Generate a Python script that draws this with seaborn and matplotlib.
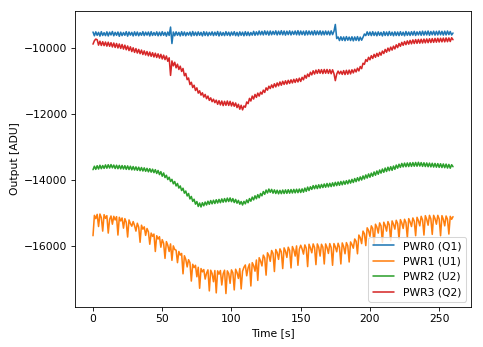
import numpy as np
import pandas as pd
import matplotlib
matplotlib.use("Agg")
import matplotlib.pyplot as plt
import seaborn as sns

# Detector outputs sampled once per second [ADU]
pwr0 = [
    -9500, -9615, -9495, -9600, -9510, -9625, -9490, -9605, -9520, -9610,
    -9495, -9620, -9505, -9590, -9485, -9615, -9510, -9600, -9500, -9630,
    -9505, -9610, -9515, -9600, -9490, -9625, -9500, -9595, -9510, -9620,
    -9495, -9605, -9500, -9615, -9520, -9600, -9490, -9610, -9505, -9595,
    -9500, -9620, -9490, -9605, -9515, -9600, -9495, -9615, -9505, -9610,
    -9490, -9600, -9510, -9625, -9500, -9605, -9350, -9850, -9500, -9615,
    -9495, -9600, -9510, -9620, -9490, -9605, -9500, -9615, -9515, -9595,
    -9500, -9620, -9485, -9605, -9505, -9610, -9495, -9600, -9510, -9620,
    -9490, -9605, -9500, -9615, -9510, -9595, -9495, -9610, -9505, -9600,
    -9485, -9620, -9500, -9605, -9515, -9610, -9490, -9600, -9505, -9615,
    -9500, -9595, -9490, -9610, -9510, -9620, -9495, -9600, -9505, -9615,
    -9490, -9605, -9500, -9610, -9515, -9595, -9480, -9600, -9495, -9590,
    -9470, -9585, -9480, -9590, -9465, -9580, -9475, -9595, -9470, -9585,
    -9480, -9575, -9465, -9590, -9475, -9580, -9460, -9585, -9470, -9595,
    -9475, -9580, -9465, -9590, -9480, -9575, -9470, -9585, -9460, -9590,
    -9470, -9580, -9475, -9595, -9465, -9585, -9470, -9580, -9475, -9590,
    -9460, -9585, -9470, -9580, -9465, -9590, -9475, -9585, -9470, -9580,
    -9475, -9590, -9465, -9580, -9480, -9270, -9700, -9650, -9760, -9645,
    -9755, -9650, -9765, -9640, -9750, -9655, -9760, -9645, -9770, -9650,
    -9755, -9640, -9765, -9655, -9750, -9660, -9560, -9610, -9495, -9600,
    -9500, -9610, -9490, -9605, -9505, -9615, -9495, -9600, -9510, -9620,
    -9490, -9605, -9500, -9610, -9485, -9600, -9505, -9615, -9495, -9605,
    -9500, -9610, -9490, -9600, -9505, -9615, -9485, -9600, -9500, -9605,
    -9490, -9595, -9480, -9605, -9495, -9590, -9485, -9600, -9475, -9595,
    -9480, -9590, -9470, -9600, -9485, -9585, -9475, -9595, -9480, -9590,
    -9470, -9585, -9480, -9595, -9475, -9590, -9470, -9580, -9485, -9590,
    -9530,
]

pwr1 = [
    -15700, -15080, -15180, -15050, -15420, -15040, -15150, -15560, -15060, -15170,
    -15090, -15620, -15200, -15100, -15350, -15110, -15220, -15120, -15680, -15140,
    -15250, -15160, -15470, -15180, -15290, -15740, -15220, -15330, -15410, -15270,
    -15390, -15560, -15320, -15440, -15900, -15380, -15500, -15430, -15690, -15480,
    -15580, -15960, -15620, -15720, -15650, -16180, -15700, -15800, -15730, -16050,
    -15820, -15930, -16390, -15880, -15990, -16180, -15950, -16450, -16010, -16120,
    -16140, -16520, -16180, -16290, -16240, -16860, -16310, -16420, -16650, -16430,
    -16520, -17080, -16570, -16670, -16600, -16950, -16660, -17300, -16700, -16800,
    -16730, -17020, -16840, -16740, -17380, -16750, -16850, -17100, -16760, -17440,
    -16770, -16870, -16760, -17200, -16860, -16750, -17460, -16770, -16850, -17150,
    -16740, -16830, -17350, -16720, -16820, -17000, -16700, -17320, -16780, -16660,
    -16590, -16920, -16680, -16560, -17230, -16520, -16610, -16780, -16440, -17060,
    -16370, -16470, -16620, -16290, -16380, -16900, -16220, -16300, -16480, -16150,
    -16240, -16790, -16120, -16210, -16420, -16100, -16190, -16700, -16070, -16170,
    -16360, -16050, -16150, -16680, -16030, -16130, -16320, -16010, -16600, -16110,
    -15990, -16100, -16260, -15980, -16080, -16640, -15960, -16070, -16220, -15950,
    -16060, -16580, -15950, -16050, -16320, -15960, -16050, -16560, -15950, -16060,
    -16240, -15940, -16060, -16600, -15940, -16040, -16190, -15930, -16050, -16560,
    -15920, -16030, -16250, -15910, -16010, -16500, -15890, -15970, -16080, -15800,
    -15870, -16250, -15680, -15760, -15940, -15560, -15640, -16000, -15460, -15540,
    -15720, -15400, -15480, -15980, -15350, -15440, -15620, -15310, -15400, -15900,
    -15290, -15390, -15560, -15270, -15370, -15850, -15250, -15350, -15500, -15230,
    -15330, -15800, -15210, -15310, -15480, -15200, -15300, -15760, -15180, -15280,
    -15420, -15160, -15260, -15700, -15140, -15240, -15400, -15110, -15220, -15680,
    -15090, -15200, -15380, -15080, -15190, -15660, -15080, -15180, -15350, -15080,
    -15190, -15700, -15090, -15200, -15400, -15100, -15200, -15650, -15110, -15200,
    -15120,
]

pwr2 = [
    -13690, -13585, -13680, -13570, -13670, -13555, -13660, -13565, -13650, -13545,
    -13645, -13540, -13640, -13535, -13635, -13550, -13655, -13555, -13660, -13560,
    -13665, -13565, -13670, -13570, -13680, -13575, -13685, -13585, -13695, -13595,
    -13700, -13605, -13710, -13615, -13720, -13625, -13730, -13635, -13740, -13650,
    -13755, -13660, -13765, -13675, -13780, -13690, -13805, -13715, -13840, -13750,
    -13890, -13790, -13930, -13860, -13990, -13920, -14050, -13985, -14120, -14050,
    -14185, -14110, -14250, -14185, -14325, -14255, -14405, -14340, -14490, -14415,
    -14580, -14505, -14655, -14590, -14740, -14660, -14810, -14705, -14825, -14695,
    -14790, -14675, -14765, -14650, -14745, -14630, -14730, -14620, -14720, -14605,
    -14705, -14595, -14695, -14580, -14680, -14570, -14670, -14555, -14660, -14550,
    -14665, -14570, -14690, -14595, -14710, -14625, -14740, -14660, -14765, -14655,
    -14730, -14610, -14695, -14570, -14650, -14525, -14610, -14485, -14575, -14450,
    -14545, -14415, -14485, -14355, -14440, -14310, -14400, -14280, -14380, -14290,
    -14405, -14305, -14415, -14315, -14425, -14320, -14420, -14310, -14415, -14305,
    -14410, -14300, -14405, -14295, -14400, -14290, -14395, -14285, -14390, -14280,
    -14385, -14275, -14375, -14250, -14350, -14220, -14325, -14210, -14290, -14175,
    -14270, -14165, -14265, -14150, -14250, -14140, -14235, -14125, -14225, -14110,
    -14215, -14105, -14205, -14090, -14190, -14075, -14175, -14065, -14165, -14050,
    -14150, -14040, -14135, -14025, -14120, -14005, -14100, -13985, -14080, -13960,
    -14055, -13935, -14030, -13910, -14005, -13880, -13975, -13850, -13945, -13820,
    -13920, -13795, -13890, -13760, -13860, -13730, -13830, -13700, -13795, -13670,
    -13770, -13640, -13745, -13615, -13720, -13600, -13710, -13580, -13680, -13550,
    -13645, -13525, -13620, -13500, -13605, -13490, -13600, -13485, -13595, -13480,
    -13590, -13475, -13585, -13470, -13585, -13465, -13580, -13475, -13590, -13480,
    -13595, -13485, -13600, -13490, -13605, -13495, -13610, -13500, -13615, -13505,
    -13620, -13510, -13625, -13515, -13630, -13520, -13640, -13530, -13645, -13540,
    -13600,
]

pwr3 = [
    -9870, -9765, -9715, -9735, -9900, -9780, -9910, -9795, -9915, -9805,
    -9930, -9810, -9935, -9825, -9955, -9835, -9970, -9850, -9985, -9865,
    -10000, -9880, -10020, -9900, -10040, -9925, -10065, -9950, -10095, -9980,
    -10120, -10005, -10140, -10030, -10160, -10050, -10185, -10075, -10200, -10095,
    -10225, -10110, -10240, -10130, -10260, -10145, -10275, -10165, -10295, -10180,
    -10320, -10205, -10340, -10230, -10390, -10285, -10820, -10380, -10530, -10420,
    -10590, -10480, -10640, -10540, -10700, -10610, -10830, -10760, -10950, -10900,
    -11100, -11030, -11190, -11120, -11280, -11200, -11360, -11290, -11420, -11350,
    -11480, -11400, -11530, -11450, -11580, -11505, -11620, -11545, -11650, -11575,
    -11700, -11590, -11720, -11600, -11740, -11610, -11730, -11600, -11735, -11610,
    -11750, -11640, -11760, -11660, -11800, -11700, -11850, -11730, -11870, -11750,
    -11790, -11630, -11680, -11520, -11600, -11450, -11540, -11400, -11490, -11360,
    -11450, -11330, -11390, -11270, -11340, -11200, -11270, -11150, -11220, -11110,
    -11195, -11075, -11170, -11050, -11140, -11020, -11120, -11000, -11095, -10985,
    -11085, -10970, -11065, -10955, -11050, -10940, -11035, -10925, -11020, -10905,
    -11005, -10880, -10955, -10820, -10905, -10780, -10855, -10725, -10805, -10680,
    -10780, -10660, -10760, -10645, -10755, -10645, -10765, -10640, -10755, -10640,
    -10760, -10645, -10770, -10650, -10765, -10980, -10780, -10690, -10775, -10695,
    -10790, -10675, -10795, -10665, -10785, -10660, -10775, -10650, -10745, -10635,
    -10715, -10600, -10685, -10550, -10615, -10450, -10485, -10340, -10395, -10270,
    -10345, -10220, -10305, -10180, -10270, -10150, -10240, -10120, -10205, -10080,
    -10155, -10030, -10115, -9990, -10080, -9960, -10050, -9930, -10015, -9890,
    -9975, -9850, -9935, -9815, -9905, -9790, -9885, -9770, -9870, -9755,
    -9860, -9740, -9850, -9730, -9845, -9725, -9840, -9720, -9835, -9715,
    -9830, -9710, -9825, -9705, -9820, -9700, -9815, -9695, -9810, -9690,
    -9805, -9690, -9800, -9685, -9800, -9680, -9795, -9680, -9790, -9675,
    -9735,
]

labels = ["PWR0 (Q1)", "PWR1 (U1)", "PWR2 (U2)", "PWR3 (Q2)"]
series = [pwr0, pwr1, pwr2, pwr3]

sns.set_style("ticks")
plt.rcParams.update({
    "font.family": ["DejaVu Sans"],
    "font.size": 10.3,
    "axes.edgecolor": "black",
    "axes.linewidth": 0.8,
    "axes.labelcolor": "black",
    "text.color": "black",
    "xtick.color": "black",
    "ytick.color": "black",
    "xtick.major.size": 3.5,
    "ytick.major.size": 3.5,
    "xtick.major.width": 0.8,
    "ytick.major.width": 0.8,
    "xtick.labelsize": 10.3,
    "ytick.labelsize": 10.3,
    "axes.labelsize": 10.3,
    "legend.fontsize": 10.3,
})

colors = sns.color_palette("tab10", 4)

fig, ax = plt.subplots(figsize=(483 / 75, 347 / 75), dpi=75)
fig.subplots_adjust(left=0.1553, right=0.9752, top=0.9683, bottom=0.1153)

for values, label, color in zip(series, labels, colors):
    df = pd.DataFrame({"t": np.arange(len(values)), "v": values})
    sns.lineplot(data=df, x="t", y="v", ax=ax, color=color, label=label,
                 linewidth=1.5, estimator=None)

ax.set_xlabel("Time [s]")
ax.set_ylabel("Output [ADU]")
ax.set_xticks([0, 50, 100, 150, 200, 250])
ax.set_yticks([-16000, -14000, -12000, -10000])
ax.legend(loc="lower right", framealpha=0.8, edgecolor="0.8", fancybox=True)

fig.savefig("out.png", dpi=75)
